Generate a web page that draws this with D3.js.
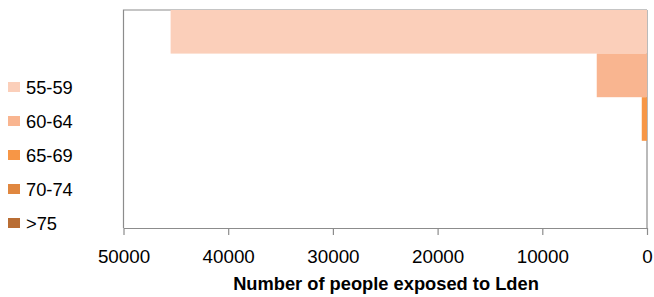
<!DOCTYPE html>
<html>
<head>
<meta charset="utf-8">
<script src="https://cdn.jsdelivr.net/npm/d3@7"></script>
<style>
  body { margin: 0; background: #fff; }
  svg { display: block; font-family: "Liberation Sans", Arial, sans-serif; }
</style>
</head>
<body>
<svg id="chart" width="654" height="297"></svg>
<script>
// Noise bands and exposed population
const bands = ['55-59', '60-64', '65-69', '70-74', '>75'];
const people = [45500, 4800, 500, 0, 0];
const bandColors = ['#fbcfba', '#f9b590', '#f79646', '#e0873f', '#b96d34'];
const xTicks = [50000, 40000, 30000, 20000, 10000, 0];

const svg = d3.select('#chart');
const plot = { left: 123.5, right: 647, top: 10, bottom: 228 };

// reversed axis: 0 on the right
const x = d3.scaleLinear().domain([0, 50000]).range([plot.right, plot.left]);
const y = d3.scaleBand().domain(bands).range([plot.top, plot.bottom]).padding(0);
const color = d3.scaleOrdinal().domain(bands).range(bandColors);

// frame (top + left)
svg.append('path')
  .attr('d', `M${plot.right},${plot.top}H${plot.left}V${plot.bottom}`)
  .attr('fill', 'none')
  .attr('stroke', '#8c8c8c')
  .attr('stroke-width', 1.2);

// right vertical axis at 0
svg.append('line')
  .attr('x1', x(0)).attr('x2', x(0))
  .attr('y1', plot.top).attr('y2', plot.bottom)
  .attr('stroke', '#8c8c8c')
  .attr('stroke-width', 1.2);

// bars
svg.append('g')
  .selectAll('rect')
  .data(bands.map((b, i) => ({ band: b, value: people[i] })))
  .join('rect')
  .attr('x', d => x(d.value))
  .attr('y', d => y(d.band))
  .attr('width', d => x(0) - x(d.value))
  .attr('height', y.bandwidth())
  .attr('fill', d => color(d.band));

// bottom axis
const xAxis = svg.append('g')
  .attr('transform', `translate(0,${plot.bottom})`)
  .call(d3.axisBottom(x).tickValues(xTicks).tickFormat(d3.format('d')).tickSize(7).tickSizeOuter(0));
xAxis.select('.domain').attr('stroke', '#8c8c8c').attr('stroke-width', 1.2);
xAxis.selectAll('.tick line').attr('stroke', '#8c8c8c').attr('stroke-width', 1.2);
xAxis.selectAll('.tick text')
  .attr('y', 0)
  .attr('dy', null)
  .attr('transform', 'translate(0,35)')
  .attr('fill', '#000')
  .style('font-size', '18.8px');

// axis title
svg.append('text')
  .attr('x', 386)
  .attr('y', 290)
  .attr('text-anchor', 'middle')
  .style('font-size', '18.3px')
  .style('font-weight', 'bold')
  .text('Number of people exposed to Lden');

// legend
const legend = svg.append('g')
  .selectAll('g')
  .data(bands)
  .join('g')
  .attr('transform', (d, i) => `translate(8,${82 + i * 34})`);

legend.append('rect')
  .attr('width', 12)
  .attr('height', 10)
  .attr('fill', d => color(d));

legend.append('text')
  .attr('x', 18)
  .attr('y', 11.5)
  .style('font-size', '18.3px')
  .text(d => d);
</script>
</body>
</html>
